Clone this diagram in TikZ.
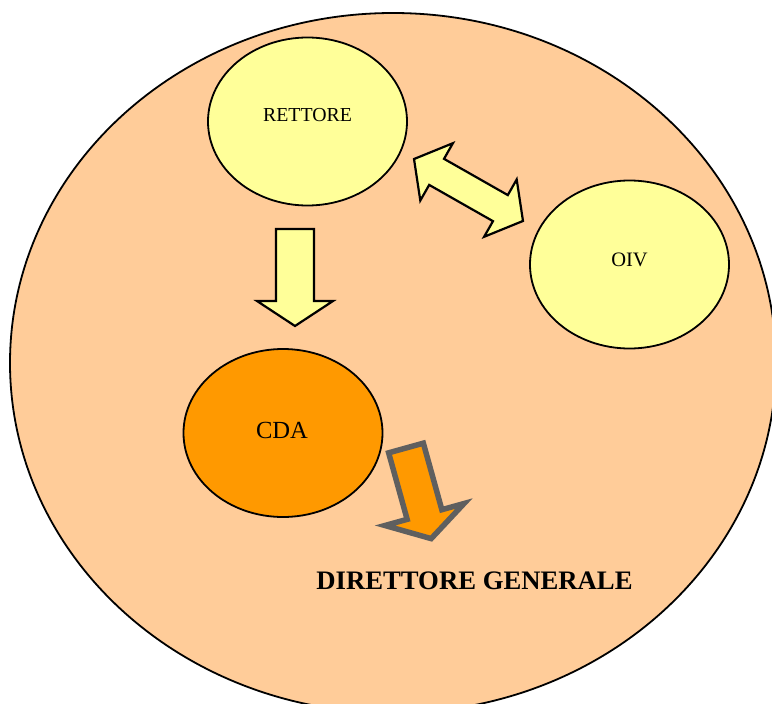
\documentclass[tikz,border=0pt]{standalone}
\usepackage{fontspec}
\setmainfont{Liberation Serif}
\usetikzlibrary{shapes.geometric}
\definecolor{peach}{HTML}{FFCC99}
\definecolor{paleyellow}{HTML}{FFFF99}
\definecolor{deeporange}{HTML}{FF9900}
\definecolor{arrowgray}{HTML}{5F5F5F}
\tikzset{
  bubble/.style={draw=black, line width=1.8pt, ellipse, fill=paleyellow,
    minimum width=199pt, minimum height=168pt, inner sep=0pt},
  lbl/.style={inner sep=0pt, text=black},
  blockarrow/.style={draw=black, line width=2.2pt, fill=paleyellow, line join=miter},
  dgarrow/.style={draw=arrowgray, line width=5.5pt, fill=deeporange, line join=miter}
}
\begin{document}
\begin{tikzpicture}[x=1pt, y=-1pt]
\useasboundingbox (0,0) rectangle (772,704);
\clip (0,0) rectangle (772,704);
% outer organisation ellipse
\node[draw=black, line width=1.8pt, ellipse, fill=peach, minimum width=766pt,
      minimum height=700pt, inner sep=0pt] (org) at (393,363) {};
% nodes
\node[bubble] (rett) at (307.5,121.5) {};
\node[lbl, font=\fontsize{19.8}{22}\selectfont] at ([yshift=6.5pt]rett.center) {RETTORE};
\node[bubble] (oiv) at (629.5,264.5) {};
\node[lbl, font=\fontsize{20.5}{22}\selectfont] at ([yshift=5pt]oiv.center) {OIV};
\node[bubble, fill=deeporange] (cda) at (283,433) {};
\node[lbl, font=\fontsize{24.6}{26}\selectfont] at ([xshift=-1pt, yshift=2.7pt]cda.center) {CDA};
\node[lbl, font=\bfseries\fontsize{26.7}{28}\selectfont] (dg) at (474.5,580.5) {DIRETTORE GENERALE};
% down arrow RETTORE -> CDA
\draw[blockarrow] (276,229) -- (314,229) -- (314,301) -- (333,301) -- (295,326)
  -- (257,301) -- (276,301) -- cycle;
% double arrow RETTORE <-> OIV
\begin{scope}[shift={(468.5,190)}, x={(0.869pt,-0.494pt)}, y={(0.494pt,0.869pt)}]
\draw[blockarrow] (-62.7,0) -- (-36.7,33) -- (-36.7,15) -- (36.7,15) -- (36.7,33)
  -- (62.7,0) -- (36.7,-33) -- (36.7,-15) -- (-36.7,-15) -- (-36.7,-33) -- cycle;
\end{scope}
% orange arrow CDA -> DIRETTORE GENERALE
\begin{scope}[shift={(406,448)}, x={(0.964pt,0.268pt)}, y={(0.268pt,-0.964pt)}]
\draw[dgarrow] (-18,0) -- (18,0) -- (18,69) -- (41,69) -- (0,94) -- (-41,69)
  -- (-18,69) -- cycle;
\end{scope}
\end{tikzpicture}
\end{document}
